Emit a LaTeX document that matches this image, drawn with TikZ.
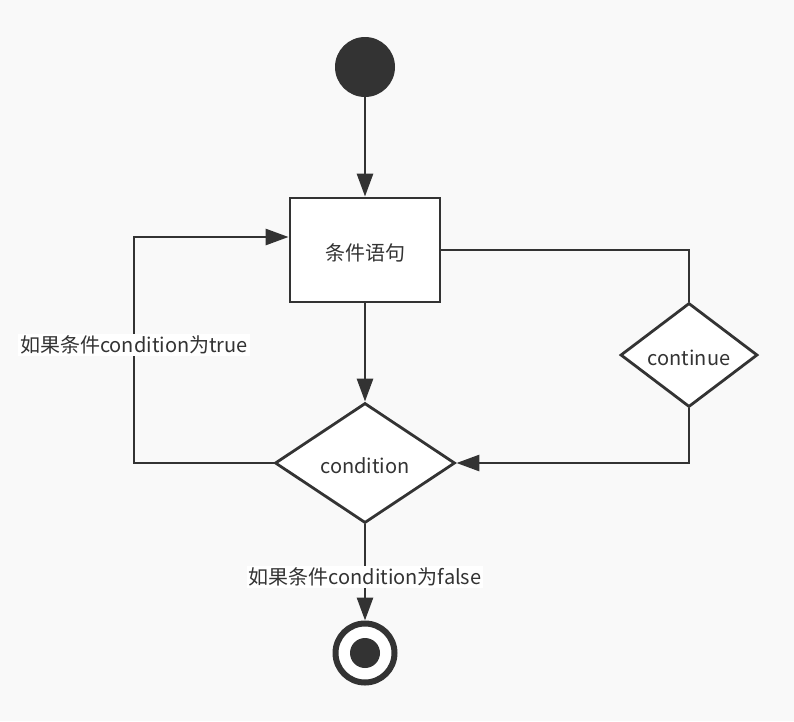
\documentclass[tikz,border=0pt]{standalone}
\usepackage{fontspec}
\setmainfont{Noto Sans CJK SC}
\usetikzlibrary{arrows.meta,shapes.geometric}
\definecolor{ink}{HTML}{333333}
\definecolor{canvas}{HTML}{F9F9F9}
% lower a node text slightly, keeping its box, so it sits on the optical centre
\newcommand{\lowered}[1]{\raisebox{-3pt}[\height][\depth]{#1}}

\begin{document}
\begin{tikzpicture}[x=1pt,y=-1pt,
  txt/.style={font=\fontsize{20pt}{24pt}\selectfont, text=ink},
  plain/.style={draw=ink, line width=2.8pt},
  flow/.style={plain, -{Triangle[length=23pt,width=16pt]}},
  stepbox/.style={rectangle, draw=ink, fill=white, line width=2.8pt,
    minimum width=150pt, minimum height=104pt, inner sep=0pt, txt},
  decision/.style={diamond, draw=ink, fill=white, line width=2.8pt,
    inner sep=0pt, txt},
  edgelabel/.style={fill=white, inner sep=2pt, txt}]

  % canvas
  \fill[canvas] (0,0) rectangle (794,721);
  \useasboundingbox (0,0) rectangle (794,721);

  % nodes
  \node[circle, fill=ink, minimum size=60pt, inner sep=0pt] (start) at (365,67) {};
  \node[stepbox] (stmt) at (365,250) {\lowered{条件语句}};
  \node[decision, minimum width=180pt, minimum height=120pt] (cond) at (365,463) {\lowered{condition}};
  \node[decision, minimum width=137pt, minimum height=104pt] (cont) at (689,355) {\lowered{continue}};
  \node[circle, draw=ink, fill=white, line width=6pt, minimum size=59pt, inner sep=0pt] (stop) at (365,653) {};
  \node[circle, fill=ink, minimum size=30pt, inner sep=0pt] (stopdot) at (stop.center) {};

  % bend point of the loop back to the statement
  \coordinate (loopbend) at (134,237);

  % connectors
  \draw[flow] (start) -- (stmt);
  \draw[flow] (stmt) -- (cond);
  \draw[flow] (cond.west) -| (loopbend) -- (loopbend -| stmt.west);
  \draw[plain] (stmt.east) -| (cont.north);
  \draw[flow] (cont.south) |- (cond.east);
  \draw[flow] (cond.south) -- (stop.north);

  % edge labels
  \node[edgelabel] (truelbl) at (134,345) {如果条件condition为true};
  \node[edgelabel] (falselbl) at (365,577) {如果条件condition为false};
\end{tikzpicture}
\end{document}
